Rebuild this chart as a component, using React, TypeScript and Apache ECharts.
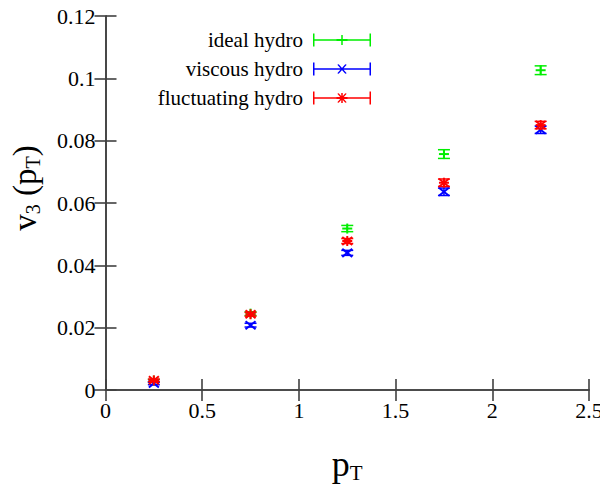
import React, { useEffect, useRef } from "react";
import * as echarts from "echarts";

// transverse-momentum bins
const ptBins = [0.25, 0.75, 1.25, 1.75, 2.25];

// v3 values and their errors for each model
const idealV3 = [0.003, 0.0245, 0.0518, 0.0757, 0.1026];
const idealErr = [0.0004, 0.0006, 0.0010, 0.0014, 0.0014];
const viscousV3 = [0.0021, 0.0208, 0.0440, 0.0636, 0.0835];
const viscousErr = [0.0004, 0.0006, 0.0008, 0.0012, 0.0012];
const fluctV3 = [0.0031, 0.0243, 0.0478, 0.0665, 0.0850];
const fluctErr = [0.0004, 0.0006, 0.0008, 0.0012, 0.0012];

const seriesNames = ["ideal hydro", "viscous hydro", "fluctuating hydro"];
const seriesColors = ["#00ee00", "#0000ff", "#ff0000"];
const markerKinds = ["plus", "cross", "star"];

const xTicks = [0, 0.5, 1, 1.5, 2, 2.5];
const yTicks = [0, 0.02, 0.04, 0.06, 0.08, 0.1, 0.12];

const FONT = "Liberation Serif";

// legend samples: error-bar line with end caps and the point marker in the middle (58 x 13 box)
const iconBase = "M0 5.75 H58 V7.25 H0 Z M0 0 H1.5 V13 H0 Z M56.5 0 H58 V13 H56.5 Z";
const iconPlus = "M28.25 1.5 H29.75 V11.5 H28.25 Z M23.5 5.5 H34.5 V7.5 H23.5 Z";
const iconCross = "M24.3 2.2 L25.7 1.8 L33.7 10.8 L32.3 11.2 Z M32.3 1.8 L33.7 2.2 L25.7 11.2 L24.3 10.8 Z";
const legendIcons = [
  "path://" + iconBase + " " + iconPlus,
  "path://" + iconBase + " " + iconCross,
  "path://" + iconBase + " " + iconPlus + " " + iconCross,
];

function markerLines(kind: string, cx: number, cy: number, color: string) {
  const h = 5;
  const st = { stroke: color, lineWidth: 2 };
  const plus = [
    { type: "line", shape: { x1: cx - h, y1: cy, x2: cx + h, y2: cy }, style: st },
    { type: "line", shape: { x1: cx, y1: cy - h, x2: cx, y2: cy + h }, style: st },
  ];
  const cross = [
    { type: "line", shape: { x1: cx - h, y1: cy - h * 0.8, x2: cx + h, y2: cy + h * 0.8 }, style: st },
    { type: "line", shape: { x1: cx - h, y1: cy + h * 0.8, x2: cx + h, y2: cy - h * 0.8 }, style: st },
  ];
  if (kind === "plus") return plus;
  if (kind === "cross") return cross;
  return [...plus, ...cross];
}

function makeRenderer(kind: string) {
  return (params: any, api: any) => {
    const x = api.value(0);
    const y = api.value(1);
    const e = api.value(2);
    const c = api.coord([x, y]);
    const lo = api.coord([x, y - e]);
    const hi = api.coord([x, y + e]);
    const color = api.visual("color");
    const cap = 6;
    const st = { stroke: color, lineWidth: 1.5 };
    return {
      type: "group",
      children: [
        { type: "line", shape: { x1: c[0], y1: lo[1], x2: c[0], y2: hi[1] }, style: st },
        { type: "line", shape: { x1: c[0] - cap, y1: lo[1], x2: c[0] + cap, y2: lo[1] }, style: st },
        { type: "line", shape: { x1: c[0] - cap, y1: hi[1], x2: c[0] + cap, y2: hi[1] }, style: st },
        ...markerLines(kind, c[0], c[1], color),
      ],
    };
  };
}

export default function App() {
  const ref = useRef<HTMLDivElement>(null);

  useEffect(() => {
    if (!ref.current) return;
    const chart = echarts.init(ref.current, undefined, { renderer: "svg" });

    const values = [idealV3, viscousV3, fluctV3];
    const errors = [idealErr, viscousErr, fluctErr];

    const axisLine = { show: true, lineStyle: { color: "#404040", width: 1.6 } };
    const axisTick = { show: true, inside: true, length: 11, lineStyle: { color: "#404040", width: 1.6 } };
    const labelStyle = { color: "#000", fontFamily: FONT, fontSize: 22 };

    const fmtY = (v: number) => {
      const t = yTicks.find((k) => Math.abs(k - v) < 1e-9);
      return t === undefined ? "" : String(t);
    };
    const fmtX = (v: number) => {
      const t = xTicks.find((k) => Math.abs(k - v) < 1e-9);
      return t === undefined ? "" : String(t);
    };

    const xTitleRich = {
      m: { fontFamily: FONT, fontSize: 36, color: "#000", lineHeight: 38, verticalAlign: "middle" },
      s: { fontFamily: FONT, fontSize: 21, color: "#000", lineHeight: 16, verticalAlign: "bottom" },
    };
    const yTitleRich = {
      m: { fontFamily: FONT, fontSize: 33, color: "#000", lineHeight: 36, verticalAlign: "middle" },
      s: { fontFamily: FONT, fontSize: 20, color: "#000", lineHeight: 15, verticalAlign: "bottom" },
    };

    chart.setOption({
      animation: false,
      backgroundColor: "#fff",
      grid: { left: 105, right: 19, top: 16, bottom: 105, containLabel: false },
      legend: {
        orient: "vertical",
        align: "right",
        right: 237,
        top: 29,
        padding: 0,
        itemGap: 7,
        itemWidth: 58,
        itemHeight: 13,
        selectedMode: false,
        textStyle: { fontFamily: FONT, fontSize: 21, color: "#000", lineHeight: 22, padding: [0, 5, 0, 0] },
        itemStyle: { borderWidth: 0 },
        data: seriesNames.map((n, i) => ({ name: n, icon: legendIcons[i] })),
      },
      xAxis: [
        {
          type: "value",
          min: xTicks[0],
          max: xTicks[xTicks.length - 1],
          interval: 0.5,
          position: "bottom",
          axisLine,
          axisTick,
          splitLine: { show: false },
          axisLabel: { ...labelStyle, margin: 9, formatter: fmtX },
          name: "{m|p}{s|T}",
          nameLocation: "middle",
          nameGap: 55,
          nameTextStyle: { rich: xTitleRich },
        },
        {
          type: "value",
          min: xTicks[0],
          max: xTicks[xTicks.length - 1],
          interval: 0.5,
          position: "top",
          axisLine,
          axisTick,
          splitLine: { show: false },
          axisLabel: { show: false },
        },
      ],
      yAxis: [
        {
          type: "value",
          min: yTicks[0],
          max: yTicks[yTicks.length - 1],
          interval: 0.02,
          position: "left",
          axisLine,
          axisTick,
          splitLine: { show: false },
          axisLabel: { ...labelStyle, margin: 10, formatter: fmtY },
          name: "{m|v}{s|3}{m| (p}{s|T}{m|)}",
          nameLocation: "middle",
          nameRotate: 90,
          nameGap: 63,
          nameTextStyle: { rich: yTitleRich, padding: [0, 0, 0, 30] },
        },
        {
          type: "value",
          min: yTicks[0],
          max: yTicks[yTicks.length - 1],
          interval: 0.02,
          position: "right",
          axisLine,
          axisTick,
          splitLine: { show: false },
          axisLabel: { show: false },
        },
      ],
      series: seriesNames.map((name, i) => ({
        name,
        type: "custom",
        xAxisIndex: 0,
        yAxisIndex: 0,
        itemStyle: { color: seriesColors[i] },
        renderItem: makeRenderer(markerKinds[i]),
        encode: { x: 0, y: 1 },
        data: ptBins.map((p, j) => [p, values[i][j], errors[i][j]]),
        clip: false,
      })),
    });

    return () => chart.dispose();
  }, []);

  return <div ref={ref} style={{ width: 608, height: 495, margin: -8 }} />;
}
